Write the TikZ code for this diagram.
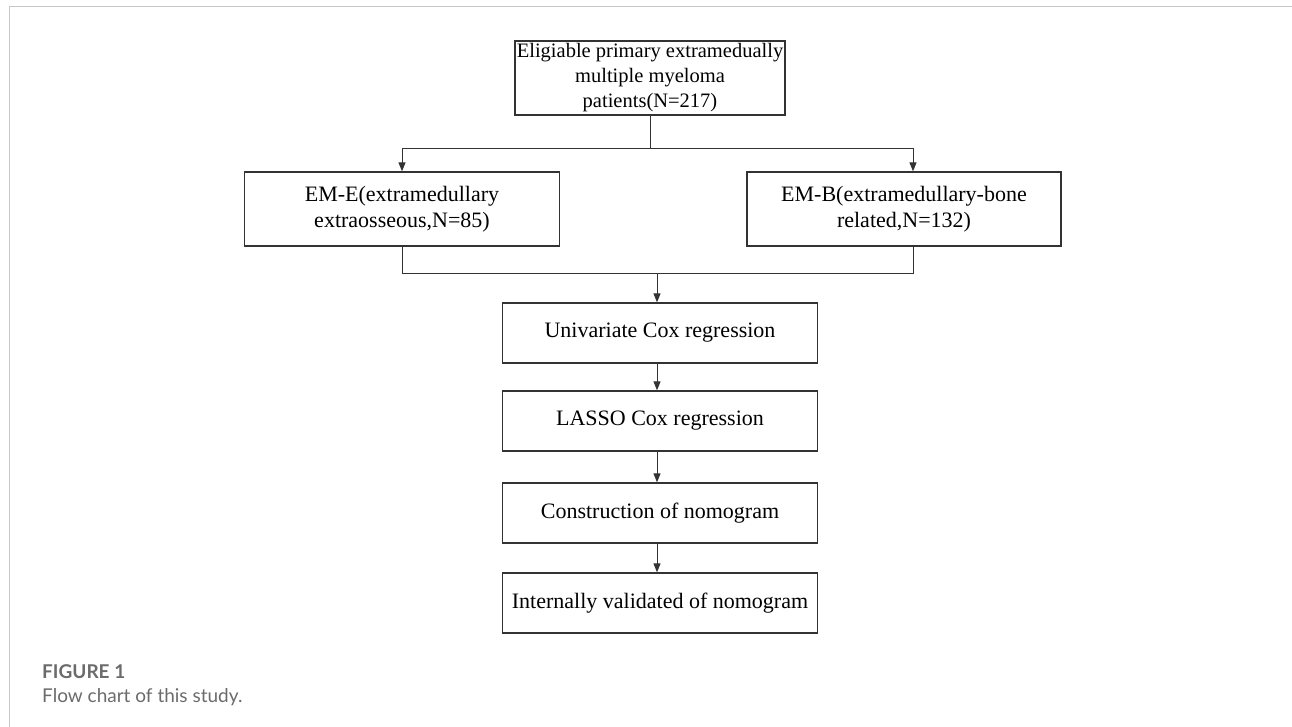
\documentclass[tikz,border=0pt]{standalone}
\usepackage{fontspec}
\setmainfont{Liberation Serif}
\newfontfamily\capfont{Lato}
\usetikzlibrary{arrows.meta}
\tikzset{
  flowbox/.style={draw=black!80, line width=1.3pt, inner sep=0pt, align=center,
    font=\fontsize{22}{26}\selectfont},
  link/.style={draw=black!80, line width=1pt},
}
\begin{document}
\begin{tikzpicture}[x=1pt, y=-1pt, >={Triangle[length=9pt,width=7pt]}]
\useasboundingbox (0,0) rectangle (1292,727);
\draw[black!22, line width=1pt] (1292,7) -- (9,7) -- (9,727);
\node[flowbox, minimum width=270pt, minimum height=74pt, font=\fontsize{20.5}{25}\selectfont] (N_0_0) at (650,78) {Eligiable primary extramedually\\multiple myeloma\\patients(N=217)};
\node[flowbox, minimum width=315pt, minimum height=74pt] (N_1_0) at (402,209) {EM-E(extramedullary\\extraosseous,N=85)};
\node[flowbox, minimum width=314pt, minimum height=74pt] (N_1_1) at (904,209) {EM-B(extramedullary-bone\\related,N=132)};
\draw[link, ->] (N_0_0.south) -- ++(0,33) -| (N_1_0.north);
\draw[link, ->] (N_0_0.south) -- ++(0,33) -| (N_1_1.north -| 913,0);
\node[flowbox, minimum width=315pt, minimum height=60pt] (N_2_0) at (660,333) {Univariate Cox regression};
\node[flowbox, minimum width=315pt, minimum height=60pt] (N_3_0) at (660,421) {LASSO Cox regression};
\node[flowbox, minimum width=315pt, minimum height=60pt] (N_4_0) at (660,513) {Construction of nomogram};
\node[flowbox, minimum width=315pt, minimum height=60pt] (N_5_0) at (660,603) {Internally validated of nomogram};
\coordinate (S_1) at (657,273);
\draw[link] (N_1_0.south) -- ++(0,27) -| (N_1_1.south -| 913,0);
\draw[link, ->] (S_1) -- (N_2_0.north -| S_1);
\draw[link, ->] (N_2_0.south -| S_1) -- (N_3_0.north -| S_1);
\draw[link, ->] (N_3_0.south -| S_1) -- (N_4_0.north -| S_1);
\draw[link, ->] (N_4_0.south -| S_1) -- (N_5_0.north -| S_1);
\node[anchor=base west, inner sep=0pt, text=black!58, font=\capfont\bfseries\fontsize{19}{23}\selectfont] (F_0) at (42,678) {FIGURE 1};
\node[anchor=base west, inner sep=0pt, text=black!58, font=\capfont\fontsize{19}{23}\selectfont] (F_1) at (42,702) {Flow chart of this study.};
\end{tikzpicture}
\end{document}
